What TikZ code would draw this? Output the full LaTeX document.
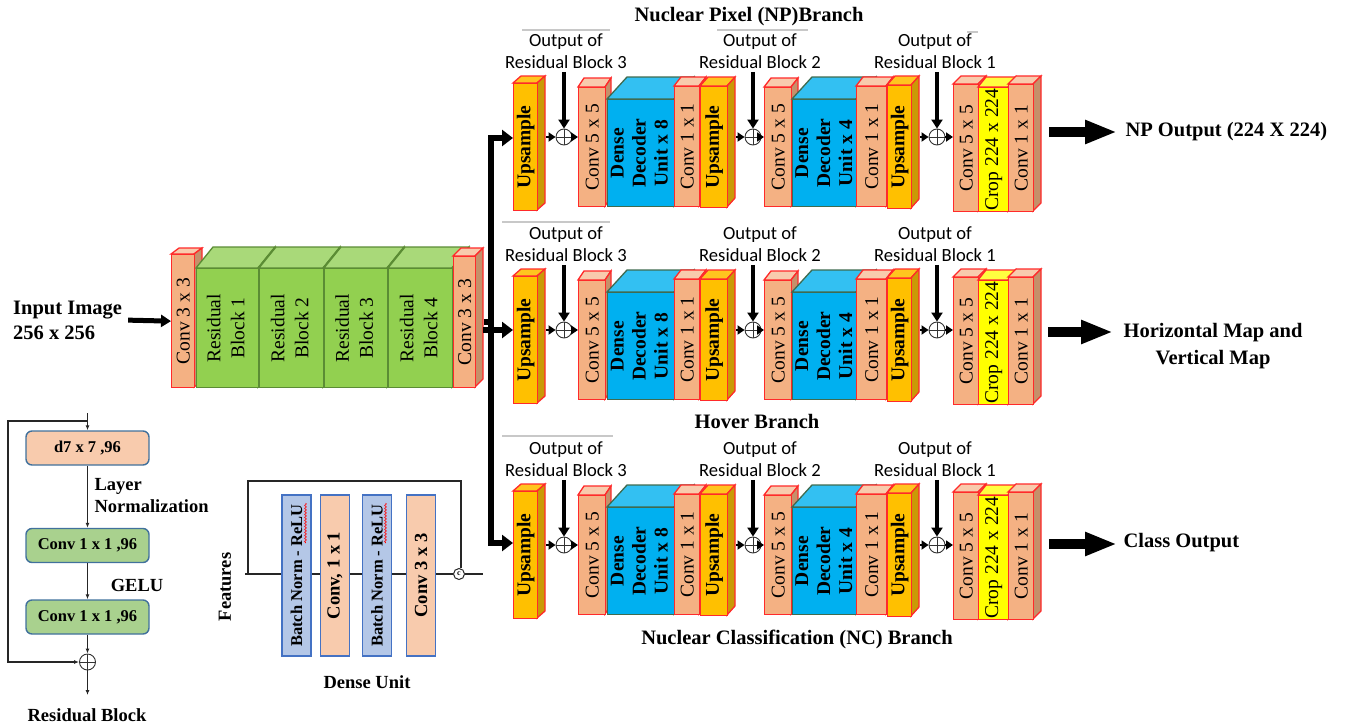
\documentclass[tikz,border=0pt]{standalone}
\usepackage{fontspec}
\setmainfont{Liberation Serif}
\newfontfamily\calfont{Carlito}
\usetikzlibrary{arrows.meta,decorations.pathmorphing}
\newcommand{\fsz}[2]{\fontsize{#1}{#2}\selectfont}
\newcommand{\fL}{\fsz{20.5}{25}\bfseries}
\newcommand{\fBr}{\fsz{19.5}{22}}
\newcommand{\fBb}{\fsz{19.5}{22}\bfseries}
\newcommand{\fRr}{\fsz{19.5}{24}}
\newcommand{\fO}{\calfont\fsz{18.6}{22}}
\newcommand{\fS}{\fsz{16.5}{20}\bfseries}
\newcommand{\fM}{\fsz{18.5}{22}\bfseries}
\newcommand{\tl}[1]{\begin{tabular}{@{}c@{}}#1\end{tabular}}
\definecolor{pchF}{HTML}{F4B183}
\definecolor{pchT}{HTML}{F8CBAD}
\definecolor{pchS}{HTML}{C5906A}
\definecolor{pchB}{HTML}{FF2A2A}
\definecolor{upsF}{HTML}{FFC000}
\definecolor{upsT}{HTML}{FFC51F}
\definecolor{upsS}{HTML}{C99A06}
\definecolor{upsB}{HTML}{FF2A2A}
\definecolor{dnsF}{HTML}{00B0F0}
\definecolor{dnsT}{HTML}{33C0F2}
\definecolor{dnsS}{HTML}{0089BB}
\definecolor{dnsB}{HTML}{3F6B50}
\definecolor{grnF}{HTML}{92D050}
\definecolor{grnT}{HTML}{A9D979}
\definecolor{grnS}{HTML}{6FA33A}
\definecolor{grnB}{HTML}{5B8C34}
\definecolor{yelF}{HTML}{FFFF00}
\definecolor{yelT}{HTML}{FFFF40}
\definecolor{yelS}{HTML}{CCCC00}
\definecolor{yelB}{HTML}{FF2A2A}
\definecolor{rbB}{HTML}{41719C}
\definecolor{rbP}{HTML}{F8CBAD}
\definecolor{rbG}{HTML}{A9D18E}
\definecolor{duB}{HTML}{4472C4}
\definecolor{duBlue}{HTML}{B4C7E7}
\definecolor{greyline}{HTML}{C8C8C8}
\tikzset{
  bw/.style={line width=1.3pt},
  plus/.style={circle, draw=black!80, line width=0.9pt, minimum size=16pt, inner sep=0pt,
    path picture={\draw[black!80, line width=0.9pt] (path picture bounding box.north) -- (path picture bounding box.south)
      (path picture bounding box.west) -- (path picture bounding box.east);}},
  sarr/.style={line width=2.5pt, -{Triangle[length=7pt,width=9pt]}},
  varr/.style={line width=3.5pt, -{Triangle[length=9pt,width=11pt]}},
  trk/.style={line width=6pt},
  tarr/.style={line width=6pt, -{Triangle[length=11pt,width=16pt]}},
  barr/.style={line width=10pt, -{Triangle[length=32pt,width=22pt]}},
  marr/.style={line width=5pt, -{Triangle[length=10pt,width=12pt]}},
  thin/.style={line width=1.1pt, black!85},
  tharr/.style={line width=1.1pt, black!85, -{Latex[length=5pt,width=4pt]}},
  rbox/.style={draw=rbB, line width=1.4pt, rounded corners=6pt, minimum width=123pt, minimum height=34pt, inner sep=0pt, font=\fS},
  dubox/.style={draw=duB, line width=1.2pt, minimum width=29pt, minimum height=161pt, inner sep=0pt},
  gl/.style={greyline, line width=1.5pt},
  wave/.style={red, line width=0.6pt, decorate, decoration={snake, amplitude=0.9pt, segment length=3pt}}
}
% #1 name #2 x1 #3 x2 #4 ytop #5 ybot #6 dx #7 dy #8 colour prefix #9 text
\newcommand{\blk}[9]{%
  \filldraw[fill=#8T,draw=#8B,bw] (#2,#4) -- ++(#6,-#7) -- ++({#3-#2},0) -- ++(-#6,#7) -- cycle;
  \filldraw[fill=#8S,draw=#8B,bw] (#3,#4) -- ++(#6,-#7) -- ++(0,{(#5)-(#4)}) -- ++(-#6,#7) -- cycle;
  \node[bw,draw=#8B,fill=#8F,anchor=north west,inner sep=0pt,minimum width={(#3-#2)*1pt},minimum height={((#5)-(#4))*1pt}] (#1) at (#2,#4) {\rotatebox{90}{#9}};%
}
\begin{document}
\begin{tikzpicture}[x=1pt,y=-1pt]
\useasboundingbox (0,0) rectangle (1349,728);

% ---------- titles ----------
\node[font=\fL] (tnp) at (749,17) {Nuclear Pixel (NP)Branch};
\node[font=\fL] (thv) at (757,421) {Hover Branch};
\node[font=\fL] (tnc) at (797,639) {Nuclear Classification (NC) Branch};

% grey artefact lines
\draw[gl] (522,30) -- (610,30);
\draw[gl] (717,30) -- (808,30);
\draw[gl] (967,32) -- (978,32);
\draw[gl] (502,222) -- (610,222);
\draw[gl] (502,436) -- (613,436);

% ---------- encoder ----------
\node[font=\fL, align=left, anchor=west, inner sep=0pt] (inp) at (13,320) {Input Image\\256 x 256};
\blk{ea}{171}{194}{254}{387}{8}{6}{pch}{\fBr Conv 3 x 3}
\blk{r1}{196}{258}{268}{387}{17}{21}{grn}{\fRr\tl{Residual\\Block 1}}
\blk{r2}{259}{323}{268}{387}{17}{21}{grn}{\fRr\tl{Residual\\Block 2}}
\blk{r3}{324}{387}{268}{387}{17}{21}{grn}{\fRr\tl{Residual\\Block 3}}
\blk{r4}{388}{452}{268}{387}{17}{21}{grn}{\fRr\tl{Residual\\Block 4}}
\blk{eb}{453}{475}{256}{387}{8}{8}{pch}{\fBr Conv 3 x 3}
\draw[marr, shorten <=6pt] (inp.east) -- (ea.west);

% ---------- trunk ----------
\coordinate (tt) at (491,138);
\coordinate (t2) at (491,330);
\coordinate (tb) at (491,543);
\draw[trk] ([yshift=3pt]tt) -- ([yshift=-3pt]tb);
\draw[trk, shorten <=8pt] (eb.east) -- (eb.east -| tt);

% ---------- decoder rows ----------
\foreach \r/\yc in {1/137,2/330,3/545}{
  \blk{ua\r}{513}{537}{\yc-54}{\yc+73}{8}{7}{ups}{\fBb Upsample}
  \node[plus] (pa\r) at (564,\yc) {};
  \blk{ka\r}{578}{605}{\yc-50}{\yc+69}{6}{9}{pch}{\fBr Conv 5 x 5}
  \blk{da\r}{607}{674}{\yc-38}{\yc+69}{20}{22}{dns}{\fBb\tl{Dense\\Decoder\\Unit x 8}}
  \blk{ma\r}{674}{699}{\yc-51}{\yc+69}{7}{9}{pch}{\fBr Conv 1 x 1}
  \blk{ub\r}{700}{727}{\yc-51}{\yc+70}{8}{9}{ups}{\fBb Upsample}
  \node[plus] (pb\r) at (753,\yc) {};
  \blk{kb\r}{764}{791}{\yc-50}{\yc+69}{7}{9}{pch}{\fBr Conv 5 x 5}
  \blk{db\r}{792}{856}{\yc-38}{\yc+69}{20}{22}{dns}{\fBb\tl{Dense\\Decoder\\Unit x 4}}
  \blk{mb\r}{856}{886}{\yc-51}{\yc+69}{7}{9}{pch}{\fBr Conv 1 x 1}
  \blk{uc\r}{887}{911}{\yc-52}{\yc+71}{8}{9}{ups}{\fBb Upsample}
  \node[plus] (pc\r) at (937,\yc) {};
  \blk{kc\r}{953}{978}{\yc-53}{\yc+74}{8}{8}{pch}{\fBr Conv 5 x 5}
  \blk{cr\r}{978}{1008}{\yc-50}{\yc+74}{8}{10}{yel}{\fBr Crop 224 x 224}
  \blk{mc\r}{1008}{1033}{\yc-53}{\yc+74}{8}{8}{pch}{\fBr Conv 1 x 1}
  \node[font=\fO, align=center] (la\r) at (566,\yc-86) {Output of\\Residual Block 3};
  \node[font=\fO, align=center] (lb\r) at (760,\yc-86) {Output of\\Residual Block 2};
  \node[font=\fO, align=center] (lc\r) at (935,\yc-86) {Output of\\Residual Block 1};
  \draw[varr] (pa\r |- la\r.south) -- (pa\r.north);
  \draw[varr] (pb\r |- lb\r.south) -- (pb\r.north);
  \draw[varr] (pc\r |- lc\r.south) -- (pc\r.north);
  \draw[sarr, shorten <=8pt] (ua\r.east |- pa\r) -- (pa\r.west);
  \draw[sarr] (pa\r.east) -- (pa\r.east -| ka\r.west);
  \draw[sarr, shorten <=8pt] (ub\r.east |- pb\r) -- (pb\r.west);
  \draw[sarr] (pb\r.east) -- (pb\r.east -| kb\r.west);
  \draw[sarr, shorten <=8pt] (uc\r.east |- pc\r) -- (pc\r.west);
  \draw[sarr] (pc\r.east) -- (pc\r.east -| kc\r.west);
}

% trunk arrows into rows
\draw[tarr] (tt) -- (tt -| ua1.west);
\draw[tarr] ([xshift=-8pt]t2) -- (t2 -| ua2.west);
\draw[tarr] (tb) -- (tb -| ua3.west);

% ---------- outputs ----------
\node[font=\fL, anchor=west] (o1) at (1122,132) {NP Output (224 X 224)};
\node[font=\fsz{20.5}{27}\bfseries, align=center] (o2) at (1213,346) {Horizontal Map and\\Vertical Map};
\node[font=\fL, anchor=west] (o3) at (1120,543) {Class Output};
\coordinate (e1) at (1117,132);
\coordinate (e2) at (1113,332);
\coordinate (e3) at (1117,544);
\draw[barr, shorten <=15pt] (mc1.east |- e1) -- (e1);
\draw[barr, shorten <=14pt] (mc2.east |- e2) -- (e2);
\draw[barr, shorten <=15pt] (mc3.east |- e3) -- (e3);

% ---------- residual block detail ----------
\node[rbox, fill=rbP] (rd) at (87.5,448) {d7 x 7 ,96};
\node[rbox, fill=rbG] (rc1) at (87.5,545.5) {Conv 1 x 1 ,96};
\node[rbox, fill=rbG] (rc2) at (87.5,617) {Conv 1 x 1 ,96};
\node[plus, minimum size=16pt] (rp) at (87.5,662) {};
\coordinate (rin) at (87.5,413);
\coordinate (rsp) at (87.5,421);
\coordinate (rlc) at (8,662);
\coordinate (rout) at (87.5,695);
\draw[tharr] (rin) -- (rd.north);
\draw[tharr] (rsp) -| (rlc) -- (rp.west);
\draw[tharr] (rd.south) -- (rc1.north);
\draw[tharr] (rc1.south) -- (rc2.north);
\draw[tharr] (rc2.south) -- (rp.north);
\draw[tharr] (rp.south) -- (rout);
\node[font=\fM, align=left, anchor=west] (lnorm) at (91,496) {Layer\\Normalization};
\node[font=\fM] (lgelu) at (137,585) {GELU};
\node[font=\fM] (lrb) at (87,715) {Residual Block};

% ---------- dense unit ----------
\coordinate (dl) at (245,574);
\coordinate (dla) at (248,574);
\coordinate (dr) at (483,574);
\coordinate (dtop) at (461,481);
\node[circle, draw=black!85, line width=1pt, inner sep=0pt, minimum size=11pt, font=\fsz{8}{8}\bfseries] (dc) at (459,574) {c};
\draw[thin] (dl) -- (dc.west);
\draw[thin] (dc.east) -- (dr);
\draw[thin] (dla) |- (dtop) -- (dtop |- dc.north);
\node[dubox, fill=duBlue, font=\fS] (bn1) at (296.5,575.5) {\rotatebox{90}{Batch Norm - ReLU}};
\node[dubox, fill=rbP, font=\fM] (cv1) at (335,575.5) {\rotatebox{90}{Conv, 1 x 1}};
\node[dubox, fill=duBlue, font=\fS] (bn2) at (377,575.5) {\rotatebox{90}{Batch Norm - ReLU}};
\node[dubox, fill=rbP, font=\fM] (cv3) at (421,575.5) {\rotatebox{90}{Conv 3 x 3}};
\draw[wave] (305.5,503) -- (305.5,543);
\draw[wave] (385.5,503) -- (385.5,543);
\node[font=\fM, rotate=90] (feat) at (225,587) {Features};
\node[font=\fM] (dun) at (367,682) {Dense Unit};
\end{tikzpicture}
\end{document}
